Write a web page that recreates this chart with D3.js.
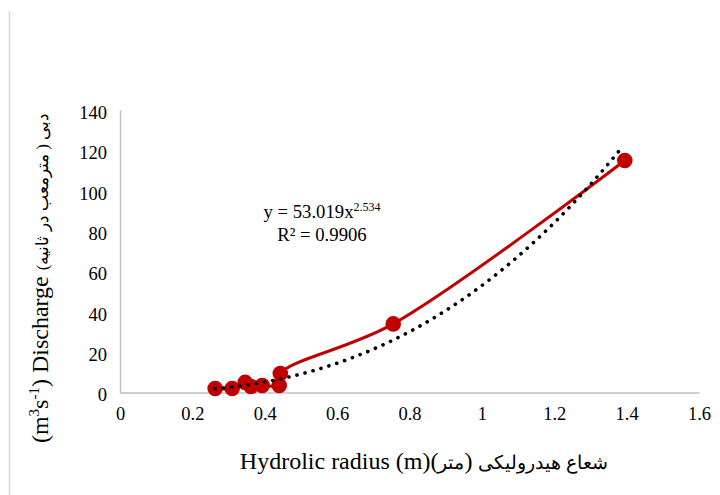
<!DOCTYPE html>
<html><head><meta charset="utf-8">
<script src="https://cdn.jsdelivr.net/npm/d3@7"></script>
<style>
html,body{margin:0;padding:0;background:#fff;}
svg{display:block;font-family:"Liberation Serif","Times New Roman",serif;}
</style></head>
<body>
<svg id="chart" width="720" height="495"></svg>
<script>
// Data
const radius    = [0.263, 0.310, 0.346, 0.362, 0.393, 0.440, 0.443, 0.755, 1.395];
const discharge = [2.0,   2.0,   5.0,   3.0,   3.5,   3.5,   9.4,   34.0,  115.0];
const xTicks = [0, 0.2, 0.4, 0.6, 0.8, 1, 1.2, 1.4, 1.6];
const yTicks = [0, 20, 40, 60, 80, 100, 120, 140];
// Power trendline shown on chart: y = 53.019 x^2.534
const trendCoef = 53.019;
const trendExp = 2.534;
const trendR2 = "0.9906";
const trendRange = [0.263, 1.39];

const svg = d3.select("#chart");
const x = d3.scaleLinear().domain([0, 1.6]).range([120, 699]);
const y = d3.scaleLinear().domain([0, 140]).range([392.5, 110]);
const axisColor = "#bfbfbf";

// left frame border
svg.append("line").attr("x1", 9.5).attr("x2", 9.5).attr("y1", 11).attr("y2", 495)
  .attr("stroke", "#d9d9d9").attr("stroke-width", 1.5);

// axes
const xAxis = svg.append("g").attr("transform", `translate(0,${y(0)})`)
  .call(d3.axisBottom(x).tickValues(xTicks).tickSize(0).tickPadding(14).tickFormat(d => String(d)));
const yAxis = svg.append("g").attr("transform", `translate(${x(0)},0)`)
  .call(d3.axisLeft(y).tickValues(yTicks).tickSize(0).tickPadding(13).tickFormat(d => String(d)));
[xAxis, yAxis].forEach(g => {
  g.select(".domain").attr("stroke", axisColor).attr("stroke-width", 1.5);
  g.selectAll("text").attr("font-family", "Liberation Serif, serif").attr("font-size", 18.5).attr("fill", "#000");
});
yAxis.selectAll("text").attr("dy", "0.45em");

// trendline (dotted)
const trendPts = d3.range(0, 101).map(i => {
  const xv = trendRange[0] + (trendRange[1] - trendRange[0]) * i / 100;
  return [xv, trendCoef * Math.pow(xv, trendExp)];
});
const trendLine = d3.line().x(d => x(d[0])).y(d => y(d[1]));

// smoothed data line
const pts = radius.map((r, i) => [r, discharge[i]]);
svg.append("path").datum(pts)
  .attr("fill", "none").attr("stroke", "#c00000").attr("stroke-width", 3)
  .attr("d", d3.line().x(d => x(d[0])).y(d => y(d[1])).curve(d3.curveCatmullRom.alpha(0.5)));

// markers
svg.append("g").selectAll("circle").data(pts).join("circle")
  .attr("cx", d => x(d[0])).attr("cy", d => y(d[1])).attr("r", 7.8)
  .attr("fill", "#c00000");

// dotted trendline on top
svg.append("path").datum(trendPts)
  .attr("fill", "none").attr("stroke", "#000").attr("stroke-width", 3.6)
  .attr("stroke-linecap", "round").attr("stroke-dasharray", "0.1 8.2")
  .attr("d", trendLine);

// equation label
const eq = svg.append("text").attr("x", 322).attr("y", 218).attr("text-anchor", "middle")
  .attr("font-size", 18.7).attr("fill", "#000");
eq.append("tspan").text(`y = ${trendCoef}x`);
eq.append("tspan").attr("font-size", 12).attr("dy", -7).text(String(trendExp));
svg.append("text").attr("x", 322).attr("y", 241).attr("text-anchor", "middle")
  .attr("font-size", 18.7).attr("fill", "#000").text(`R² = ${trendR2}`);

// x-axis title
const xt = svg.append("text").attr("x", 424).attr("y", 469).attr("text-anchor", "middle")
  .attr("font-size", 24).attr("fill", "#000");
xt.append("tspan").text("Hydrolic radius (m)(");
xt.append("tspan").attr("font-size", 19).text("متر");
xt.append("tspan").text(")\u200E ");
xt.append("tspan").attr("font-size", 19).text("شعاع هیدرولیکی");

// y-axis title
const yt = svg.append("text").attr("transform", "translate(48,278) rotate(-90)")
  .attr("text-anchor", "middle").attr("font-size", 24).attr("fill", "#000");
yt.append("tspan").text("(m");
yt.append("tspan").attr("font-size", 15).attr("dy", -9).text("3");
yt.append("tspan").attr("dy", 9).text("s");
yt.append("tspan").attr("font-size", 15).attr("dy", -9).text("-1");
yt.append("tspan").attr("dy", 9).text(") Discharge ");
yt.append("tspan").attr("font-size", 17).text("\u202Bدبی ( مترمعب در ثانیه)\u202C");
</script>
</body></html>
